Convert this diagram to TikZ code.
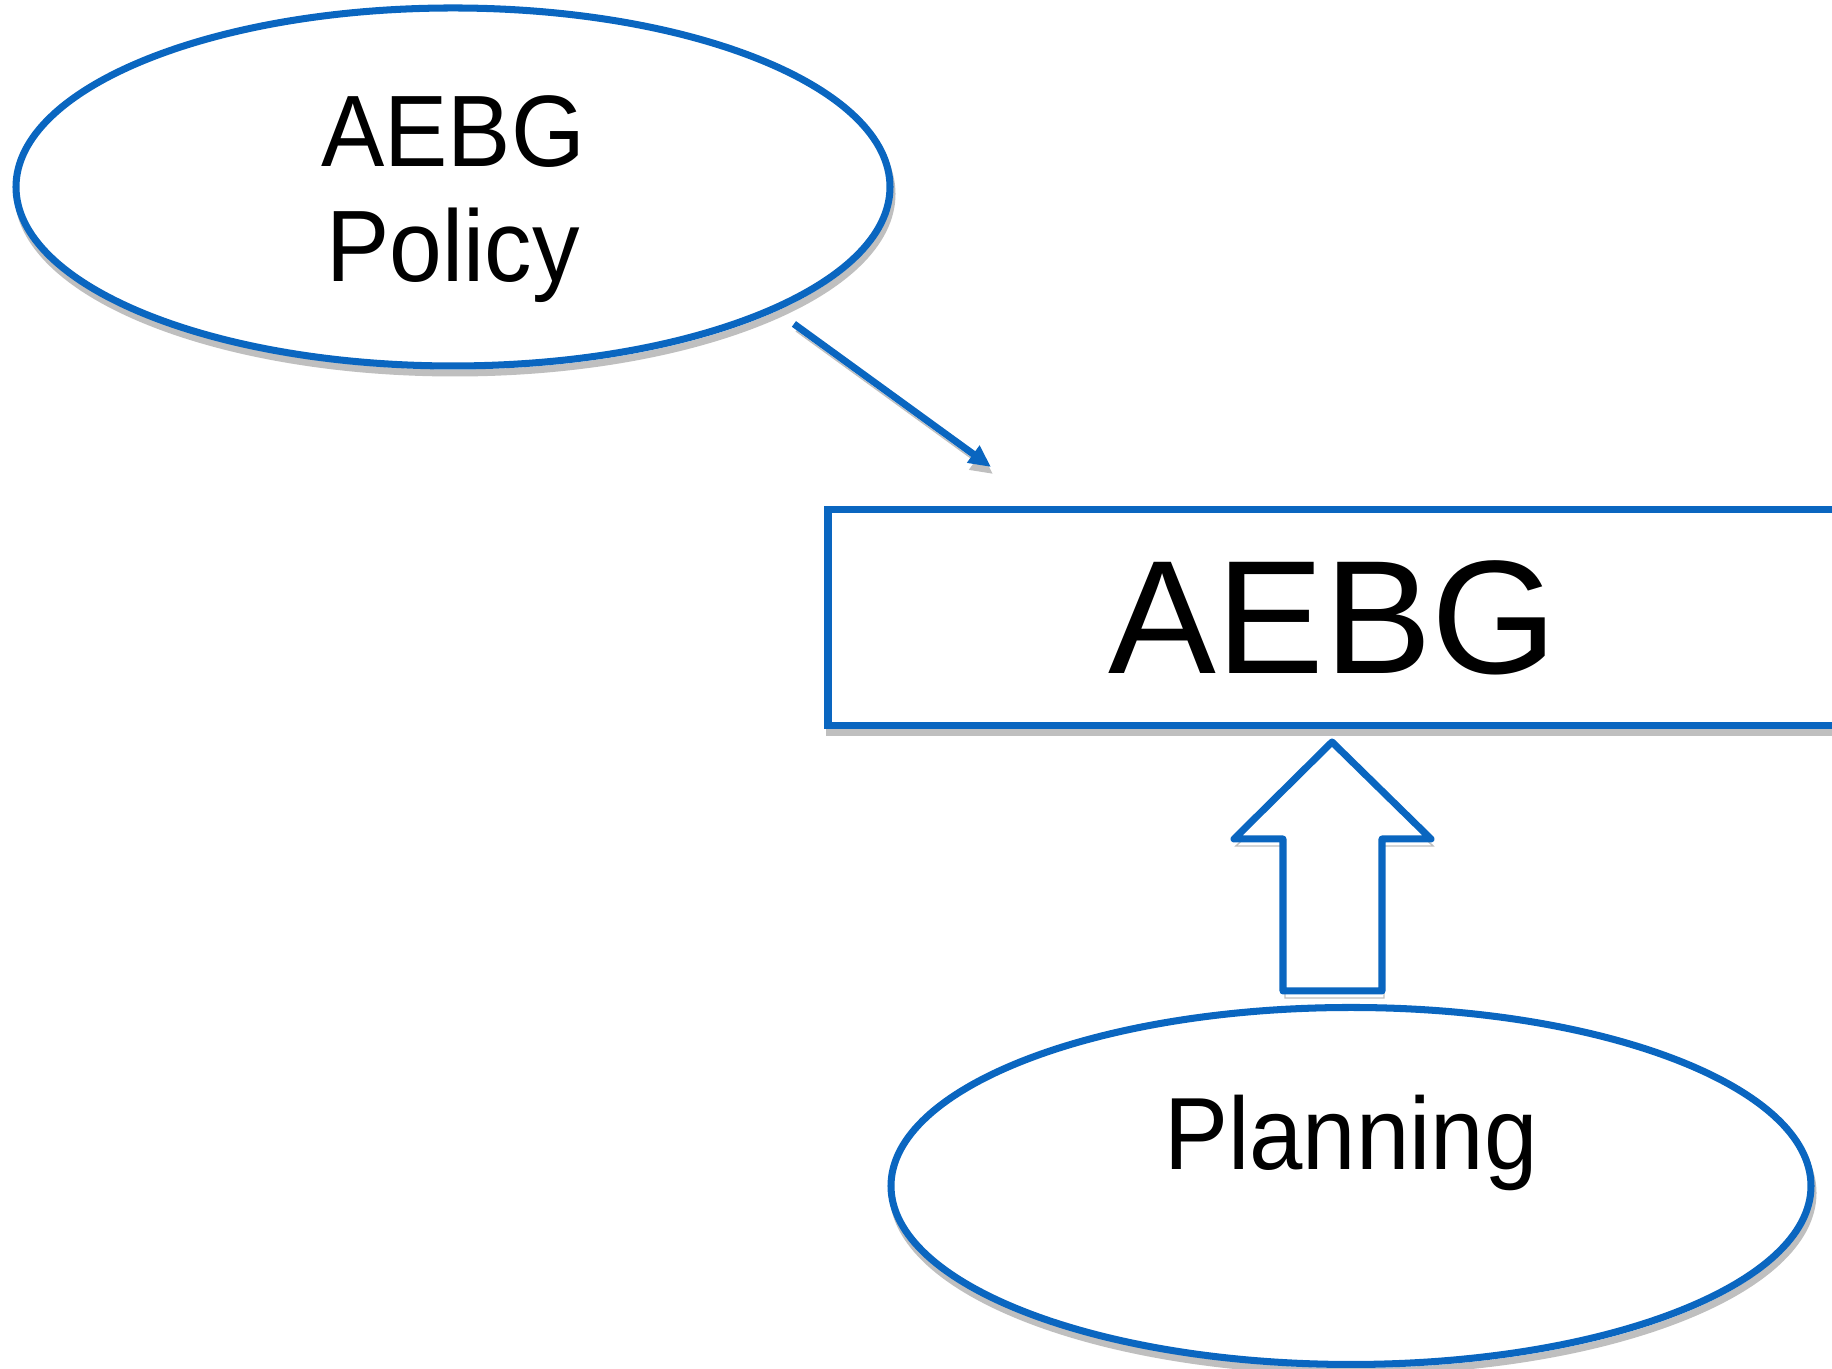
\documentclass[tikz,border=0pt]{standalone}
\usepackage{xcolor}
\usepackage{fontspec}
\setmainfont{Liberation Sans}
\usepackage{tikz}
\usetikzlibrary{shapes.geometric}
\usetikzlibrary{arrows.meta}
\usetikzlibrary{calc}
\definecolor{aebgblue}{RGB}{10,102,192}
\tikzset{
  ghost/.style={preaction={draw=black!25, transform canvas={xshift=0.2mm, yshift=-0.7mm}}},
  bubble/.style={ellipse, draw=aebgblue, line width=2pt, fill=white, ghost, inner sep=0pt},
  bigbox/.style={rectangle, draw=aebgblue, line width=2pt, fill=white, ghost, inner sep=0pt},
  link/.style={draw=aebgblue, line width=2pt, ghost, -{Triangle[length=2.2mm, width=2mm]}},
  blockarrow/.style={draw=aebgblue, line width=2pt, fill=white, ghost, line join=round},
  tall/.style={yscale=1.07, transform shape}
}
\begin{document}
\begin{tikzpicture}
            \useasboundingbox (0, 0) rectangle (18.32, 13.69);
            \clip (0, 0) rectangle (18.32, 13.69);

            \node[bubble, minimum width=8.74cm, minimum height=3.58cm] (policy) at (4.53, 11.82) {};
            \node[tall, align=center, font=\fontsize{27}{30.4}\selectfont] (policytext) at (4.53, 11.70) {AEBG\\Policy};

            \node[bigbox, minimum width=10.1cm, minimum height=2.16cm, font=\fontsize{46}{50}\selectfont] (aebg) at (13.33, 7.51) {AEBG};

            \node[bubble, minimum width=9.2cm, minimum height=3.57cm] (planning) at (13.51, 1.83) {};
            \node[tall, font=\fontsize{27.3}{31}\selectfont] (planningtext) at ($(planning) + (0, 0.43)$) {Planning};

            \coordinate (aim) at (9.91, 9.02);
            \draw[link, shorten <=0.22cm] (policy.-21.8) -- (aim);

            \coordinate (tip) at (13.32, 6.27);
            \draw[blockarrow] (tip) -- ++(0.99, -0.97) -- ++(-0.49, 0) -- ++(0, -1.52)
                -- ++(-0.99, 0) -- ++(0, 1.52) -- ++(-0.49, 0) -- cycle;

        \end{tikzpicture}
\end{document}
